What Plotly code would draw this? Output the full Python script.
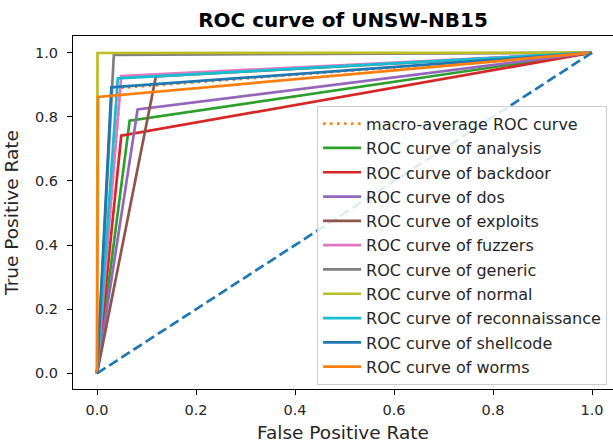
import plotly.graph_objects as go

# ---- data ----
classes = ["analysis", "backdoor", "dos", "exploits", "fuzzers",
           "generic", "normal", "reconnaissance", "shellcode", "worms"]
class_fpr = [
    [0.0, 0.066, 1.0],   # analysis
    [0.0, 0.049, 1.0],   # backdoor
    [0.0, 0.082, 1.0],   # dos
    [0.0, 0.119, 1.0],   # exploits
    [0.0, 0.049, 1.0],   # fuzzers
    [0.0, 0.034, 1.0],   # generic
    [0.0, 0.001, 1.0],   # normal
    [0.0, 0.042, 1.0],   # reconnaissance
    [0.0, 0.029, 1.0],   # shellcode
    [0.0, 0.002, 1.0],   # worms
]
class_tpr = [
    [0.0, 0.788, 1.0],
    [0.0, 0.741, 1.0],
    [0.0, 0.823, 1.0],
    [0.0, 0.926, 1.0],
    [0.0, 0.927, 1.0],
    [0.0, 0.993, 1.0],
    [0.0, 0.999, 1.0],
    [0.0, 0.920, 1.0],
    [0.0, 0.892, 1.0],
    [0.0, 0.862, 1.0],
]
macro_fpr = [0.0, 0.047, 1.0]
macro_tpr = [0.0, 0.890, 1.0]
chance_x = [0.0, 1.0]
chance_y = [0.0, 1.0]
tick_vals = [0.0, 0.2, 0.4, 0.6, 0.8, 1.0]

colors = ["#2ca02c", "#d62728", "#9467bd", "#8c564b", "#e377c2",
          "#7f7f7f", "#bcbd22", "#17becf", "#1f77b4", "#ff7f0e"]

FONT = "DejaVu Sans"
LW = 2.7

fig = go.Figure()
fig.add_trace(go.Scatter(
    x=macro_fpr, y=macro_tpr, mode="lines", name="macro-average ROC curve",
    line=dict(color="#ff7f0e", width=LW, dash="2.5px,4.5px"),
    legendgroup="macro"))
for name, fx, ty, c in zip(classes, class_fpr, class_tpr, colors):
    fig.add_trace(go.Scatter(
        x=fx, y=ty, mode="lines", name=f"ROC curve of {name}",
        line=dict(color=c, width=LW), legendgroup=name))
fig.add_trace(go.Scatter(
    x=chance_x, y=chance_y, mode="lines", showlegend=False,
    line=dict(color="#1f77b4", width=LW, dash="10px,4.5px")))

axis_common = dict(
    showgrid=False, zeroline=False, showline=True, linecolor="black",
    linewidth=1, ticks="outside", ticklen=5, tickwidth=1, tickcolor="black",
    tickvals=tick_vals, tickformat=".1f",
    tickfont=dict(family=FONT, size=14.5, color="#262626"),
)

fig.update_layout(
    width=613, height=445,
    margin=dict(l=73, r=0, t=36, b=56, autoexpand=False),
    paper_bgcolor="white", plot_bgcolor="white",
    font=dict(family=FONT, color="#262626"),
    title=dict(text="<b>ROC curve of UNSW-NB15</b>", x=0.5, xanchor="center",
               xref="paper", y=1 - 20 / 445, yanchor="middle",
               font=dict(family=FONT, size=20, color="black")),
    xaxis=dict(range=[-0.0485, 1.0424], mirror=True, automargin=False,
               ticklabelstandoff=3,
               title=dict(text="False Positive Rate",
                          font=dict(family=FONT, size=18.5, color="#262626"),
                          standoff=8),
               **axis_common),
    yaxis=dict(range=[-0.0486, 1.052], mirror=False, automargin=False,
               ticklabelstandoff=6,
               title=dict(text="True Positive Rate",
                          font=dict(family=FONT, size=18.5, color="#262626"),
                          standoff=11),
               **axis_common),
    legend=dict(x=0.989, xanchor="right", y=0.012, yanchor="bottom",
                bgcolor="rgba(255,255,255,0.85)", bordercolor="#cccccc",
                borderwidth=1, tracegroupgap=0.5, itemwidth=38,
                font=dict(family=FONT, size=16, color="#262626")),
)

fig.write_html("out.html", config={"displayModeBar": False},
               post_script="document.body.style.margin='0';")
